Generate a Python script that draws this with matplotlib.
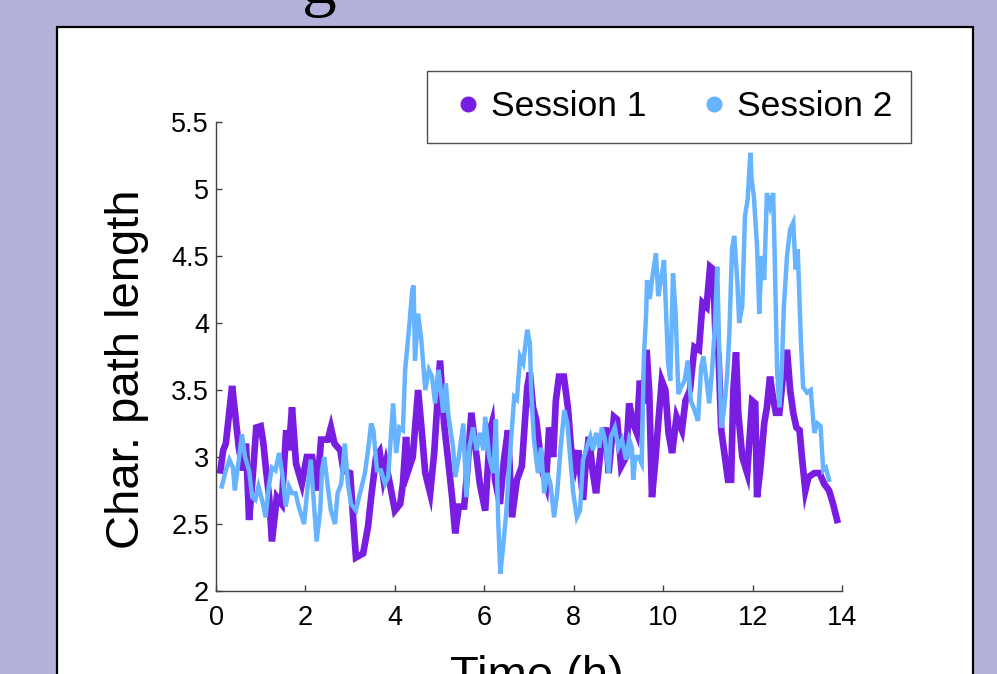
import matplotlib
matplotlib.use("Agg")
import matplotlib.pyplot as plt
from matplotlib.patches import Rectangle
from matplotlib.lines import Line2D

# ---------------- data ----------------
time_s1 = [0.1, 0.16, 0.22, 0.3, 0.36, 0.42, 0.51, 0.6, 0.67, 0.74, 0.82, 0.9, 1.0, 1.06, 1.12, 1.19,
           1.25, 1.36, 1.47, 1.57, 1.63, 1.7, 1.79, 1.92, 2.03, 2.15, 2.26, 2.35, 2.5, 2.57, 2.65, 2.78,
           2.85, 3.0, 3.07, 3.13, 3.29, 3.4, 3.47, 3.58, 3.66, 3.74, 3.8, 3.9, 4.0, 4.12, 4.18, 4.25,
           4.3, 4.4, 4.52, 4.6, 4.68, 4.79, 4.88, 4.95, 5.01, 5.1, 5.2, 5.28, 5.35, 5.43, 5.55, 5.62,
           5.71, 5.8, 5.9, 6.02, 6.13, 6.17, 6.24, 6.35, 6.44, 6.53, 6.62, 6.73, 6.84, 6.96, 7.02, 7.09,
           7.16, 7.23, 7.31, 7.38, 7.45, 7.54, 7.6, 7.67, 7.78, 7.87, 7.94, 8.03, 8.1, 8.21, 8.28, 8.34,
           8.43, 8.5, 8.61, 8.72, 8.78, 8.9, 8.97, 9.06, 9.17, 9.24, 9.33, 9.41, 9.48, 9.55, 9.63, 9.69,
           9.75, 9.82, 9.89, 9.97, 10.05, 10.12, 10.2, 10.3, 10.42, 10.5, 10.6, 10.7, 10.8, 10.88, 10.97,
           11.05, 11.12, 11.17, 11.24, 11.3, 11.36, 11.45, 11.52, 11.57, 11.63, 11.68, 11.77, 11.88,
           11.99, 12.06, 12.1, 12.17, 12.26, 12.32, 12.39, 12.44, 12.52, 12.6, 12.67, 12.77, 12.84,
           12.91, 12.98, 13.05, 13.11, 13.18, 13.25, 13.38, 13.5, 13.6, 13.71, 13.8, 13.89]
session1 = [2.9, 3.05, 3.1, 3.35, 3.53, 3.35, 3.07, 2.9, 3.1, 2.53, 2.85, 3.22, 3.23, 3.1, 2.9, 2.7,
            2.37, 2.7, 2.65, 3.2, 3.05, 3.37, 2.95, 2.8, 3.0, 3.0, 2.75, 3.13, 3.13, 3.22, 3.1, 3.05,
            2.9, 2.88, 2.53, 2.25, 2.28, 2.48, 2.7, 3.0, 3.04, 2.85, 2.95, 2.78, 2.6, 2.65, 2.8, 3.15,
            2.9, 3.0, 3.5, 3.2, 2.88, 2.73, 3.03, 3.4, 3.72, 3.25, 2.95, 2.7, 2.43, 2.63, 2.63, 2.9,
            3.33, 3.08, 2.8, 2.6, 3.2, 3.25, 2.83, 2.65, 2.98, 3.2, 2.55, 2.83, 2.93, 3.52, 3.63, 3.37,
            3.28, 3.08, 2.88, 2.8, 3.22, 3.0, 3.42, 3.6, 3.6, 3.37, 3.07, 2.93, 3.05, 2.68, 3.0, 3.15,
            2.88, 2.73, 3.07, 3.22, 2.88, 3.3, 3.28, 2.93, 3.0, 3.4, 3.25, 3.18, 3.57, 3.4, 3.8, 3.48,
            2.7, 2.95, 3.25, 3.57, 3.5, 3.18, 3.03, 3.3, 3.2, 3.42, 3.5, 3.82, 3.8, 4.15, 4.12,
            4.42, 4.4, 3.9, 3.75, 3.2, 3.05, 2.83, 2.83, 3.5, 3.78, 3.33, 3.0, 2.88,
            3.42, 3.4, 2.7, 2.9, 3.25, 3.37, 3.6, 3.48, 3.33, 3.33, 3.57, 3.8, 3.5,
            3.33, 3.22, 3.2, 2.98, 2.75, 2.85, 2.88, 2.88, 2.8, 2.75, 2.65, 2.53]

time_s2 = [0.13, 0.22, 0.3, 0.38, 0.42, 0.51, 0.58, 0.65, 0.74, 0.81, 0.88, 0.95, 1.03, 1.11, 1.18,
           1.25, 1.33, 1.41, 1.48, 1.56, 1.63, 1.7, 1.78, 1.85, 1.97, 2.05, 2.12, 2.2, 2.25, 2.33, 2.37,
           2.42, 2.5, 2.57, 2.66, 2.72, 2.8, 2.88, 2.95, 3.02, 3.13, 3.2, 3.33, 3.4, 3.47, 3.52, 3.6,
           3.69, 3.78, 3.85, 3.96, 4.03, 4.1, 4.18, 4.23, 4.32, 4.39, 4.42, 4.45, 4.52, 4.59, 4.68,
           4.76, 4.83, 4.9, 4.98, 5.08, 5.14, 5.2, 5.3, 5.35, 5.43, 5.53, 5.6, 5.67, 5.75, 5.83, 5.9,
           5.98, 6.02, 6.11, 6.2, 6.26, 6.31, 6.36, 6.42, 6.49, 6.56, 6.67, 6.73, 6.8, 6.87, 6.96,
           7.02, 7.05, 7.11, 7.2, 7.27, 7.34, 7.41, 7.48, 7.56, 7.63, 7.71, 7.79, 7.86, 7.92, 7.99,
           8.07, 8.14, 8.21, 8.29, 8.37, 8.43, 8.5, 8.57, 8.63, 8.7, 8.78, 8.83, 8.92, 9.0, 9.08,
           9.17, 9.24, 9.3, 9.33, 9.38, 9.45, 9.52, 9.57, 9.62, 9.64, 9.7, 9.77, 9.84, 9.89, 9.95,
           10.02, 10.08, 10.11, 10.16, 10.22, 10.28, 10.34, 10.4, 10.48, 10.55, 10.62, 10.7, 10.78,
           10.85, 10.9, 10.96, 11.03, 11.1, 11.16, 11.21, 11.25, 11.3, 11.36, 11.43, 11.48, 11.54,
           11.59, 11.66, 11.7, 11.77, 11.83, 11.89, 11.95, 11.98, 12.03, 12.1, 12.15, 12.2, 12.26,
           12.32, 12.39, 12.46, 12.49, 12.55, 12.6, 12.65, 12.7, 12.77, 12.84, 12.91, 12.96, 13.01,
           13.08, 13.13, 13.22, 13.3, 13.38, 13.45, 13.52, 13.58, 13.64, 13.71]
session2 = [2.78, 2.9, 2.98, 2.92, 2.75, 2.98, 3.17, 3.0, 2.9, 2.7, 2.68, 2.78, 2.68, 2.55, 2.78,
            2.92, 2.9, 3.03, 2.88, 2.63, 2.78, 2.73, 2.73, 2.63, 2.5, 2.78, 2.98, 2.6, 2.37, 2.6, 2.9,
            3.0, 2.78, 2.6, 2.5, 2.73, 2.8, 3.1, 2.8, 2.65, 2.6, 2.7, 2.88, 3.05, 3.25, 3.2, 2.9,
            2.9, 2.8, 2.85, 3.4, 3.03, 3.22, 3.2, 3.65, 3.97, 4.25, 4.28, 3.72, 4.07, 3.88, 3.5,
            3.65, 3.6, 3.4, 3.65, 3.33, 3.55, 3.3, 3.08, 2.85, 3.0, 3.25, 2.7, 3.08, 3.22, 3.05, 3.18,
            3.05, 3.3, 3.0, 2.88, 3.28, 2.53, 2.13, 2.33, 2.58, 2.95, 3.45, 3.43, 3.75, 3.7, 3.95,
            3.85, 3.5, 3.13, 2.88, 3.07, 2.73, 2.88, 2.8, 2.55, 2.73, 3.08, 3.35, 3.25, 3.0, 2.73,
            2.55, 2.6, 2.98, 3.07, 3.15, 3.05, 3.18, 3.07, 3.22, 3.13, 2.88, 3.15, 3.22, 3.07, 3.13,
            2.98, 3.13, 3.07, 2.83, 3.0, 3.0, 2.95, 3.75, 4.07, 4.32, 4.18, 4.37, 4.52, 4.2, 4.32,
            4.47, 3.97, 3.7, 3.57, 4.37, 4.07, 3.47, 3.52, 3.57, 3.72, 3.42, 3.35, 3.27,
            3.67, 3.75, 3.6, 3.4, 3.67, 4.0, 4.42, 3.85, 3.22, 3.35, 3.6, 3.92, 4.55,
            4.65, 4.3, 4.0, 4.13, 4.8, 4.92, 5.27, 5.07, 4.94, 4.57, 4.07, 4.5, 4.32,
            4.97, 4.87, 4.97, 4.57, 3.63, 3.37, 3.63, 4.12, 4.5, 4.7, 4.75, 4.4, 4.55,
            3.87, 3.52, 3.48, 3.5, 3.18, 3.25, 3.23, 2.9, 2.92, 2.83]

series_names = ["Session 1", "Session 2"]
x_ticks = [0, 2, 4, 6, 8, 10, 12, 14]
y_ticks = [2, 2.5, 3, 3.5, 4, 4.5, 5, 5.5]
y_tick_labels = ["2", "2.5", "3", "3.5", "4", "4.5", "5", "5.5"]

# ---------------- figure ----------------
W, H = 997, 674
fig = plt.figure(figsize=(W / 100, H / 100), dpi=100)
fig.patch.set_facecolor("#b4b2da")

# white slide panel (behind everything)
panel = Rectangle((57 / W, -0.2), (973 - 57) / W, (1 - 27 / H) + 0.2,
                  transform=fig.transFigure, facecolor="white", edgecolor="black",
                  linewidth=1.6, zorder=-10)
fig.patches.append(panel)

# partially visible slide title (descender of the title text)
fig.text(319 / W, 1 - 3 / H, "g", family="Liberation Serif", fontsize=50,
         ha="center", va="baseline", color="black")

ax = fig.add_axes([216 / W, 1 - 591 / H, (842 - 216) / W, (591 - 122) / H])
ax.set_zorder(1)
ax.set_facecolor("none")

purple = "#7a1de3"
light_blue = "#66b3ff"
ax.plot(time_s1, session1, color=purple, linewidth=4.8, solid_joinstyle="miter", zorder=2)
ax.plot(time_s2, session2, color=light_blue, linewidth=3.2, solid_joinstyle="miter", zorder=3)

ax.set_xlim(0, 14)
ax.set_ylim(2, 5.5)
for side in ("top", "right"):
    ax.spines[side].set_visible(False)
for side in ("left", "bottom"):
    ax.spines[side].set_color("#404040")
    ax.spines[side].set_linewidth(1.0)

ax.set_xticks(x_ticks)
ax.set_xticklabels([str(v) for v in x_ticks], family="Liberation Sans", fontsize=19.5)
ax.set_yticks(y_ticks)
ax.set_yticklabels(y_tick_labels, family="Liberation Sans", fontsize=19.5)
ax.tick_params(axis="both", direction="in", length=4.5, width=1.0, color="#404040")
ax.tick_params(axis="x", pad=10)
ax.tick_params(axis="y", pad=5)

fig.text(127 / W, 1 - 369 / H, "Char. path length", family="Liberation Sans",
         fontsize=34, rotation=90, ha="center", va="center")
fig.text(537 / W, 1 - 689 / H, "Time (h)", family="Liberation Sans",
         fontsize=34, ha="center", va="baseline")

handles = [Line2D([], [], linestyle="none", marker="o", markersize=10.5,
                  markerfacecolor=c, markeredgecolor=c) for c in (purple, light_blue)]
leg = fig.legend(handles, series_names, loc="upper left",
                 bbox_to_anchor=(427 / W, 1 - 71 / H), bbox_transform=fig.transFigure,
                 ncol=2, frameon=True, fancybox=False, borderaxespad=0,
                 borderpad=0.55, handlelength=1.2, handletextpad=0.05, columnspacing=1.3,
                 prop={"family": "Liberation Sans", "size": 25.5})
leg.get_frame().set_edgecolor("#222222")
leg.get_frame().set_linewidth(1.0)
leg.set_zorder(5)

fig.savefig("out.png", dpi=100, facecolor=fig.get_facecolor())
